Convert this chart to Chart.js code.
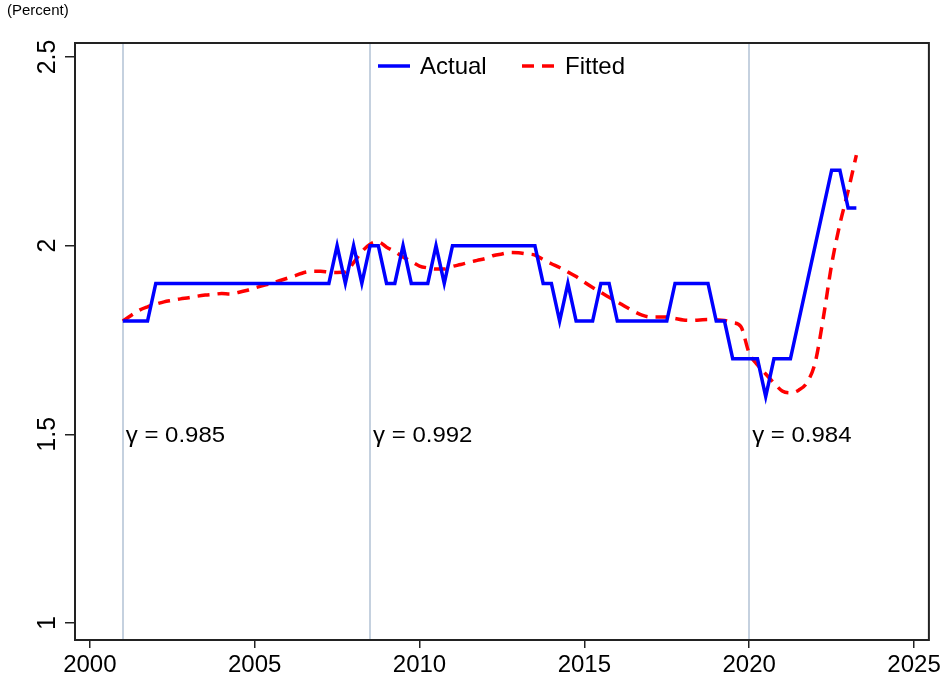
<!DOCTYPE html>
<html>
<head>
<meta charset="utf-8">
<script src="https://cdn.jsdelivr.net/npm/chart.js@4"></script>
<style>
  body { margin: 0; background: #fff; }
  canvas { display: block; }
</style>
</head>
<body>
<canvas id="chart" width="944" height="681"></canvas>
<script>
// quarterly data, first quarter 2001q1
const startYear = 2001;

const actual = [
  1.8, 1.8, 1.8, 1.8,   // 2001
  1.9, 1.9, 1.9, 1.9,   // 2002
  1.9, 1.9, 1.9, 1.9,   // 2003
  1.9, 1.9, 1.9, 1.9,   // 2004
  1.9, 1.9, 1.9, 1.9,   // 2005
  1.9, 1.9, 1.9, 1.9,   // 2006
  1.9, 1.9, 2.0, 1.9,   // 2007
  2.0, 1.9, 2.0, 2.0,   // 2008
  1.9, 1.9, 2.0, 1.9,   // 2009
  1.9, 1.9, 2.0, 1.9,   // 2010
  2.0, 2.0, 2.0, 2.0,   // 2011
  2.0, 2.0, 2.0, 2.0,   // 2012
  2.0, 2.0, 2.0, 1.9,   // 2013
  1.9, 1.8, 1.9, 1.8,   // 2014
  1.8, 1.8, 1.9, 1.9,   // 2015
  1.8, 1.8, 1.8, 1.8,   // 2016
  1.8, 1.8, 1.8, 1.9,   // 2017
  1.9, 1.9, 1.9, 1.9,   // 2018
  1.8, 1.8, 1.7, 1.7,   // 2019
  1.7, 1.7, 1.6, 1.7,   // 2020
  1.7, 1.7, 1.8, 1.9,   // 2021
  2.0, 2.1, 2.2, 2.2,   // 2022
  2.1, 2.1              // 2023
];

const fitted = [
  1.800, 1.815, 1.829, 1.838,   // 2001
  1.845, 1.851, 1.855, 1.859,   // 2002
  1.862, 1.866, 1.869, 1.871,   // 2003
  1.873, 1.872, 1.876, 1.881,   // 2004
  1.888, 1.894, 1.900, 1.907,   // 2005
  1.914, 1.921, 1.929, 1.932,   // 2006
  1.932, 1.930, 1.929, 1.930,   // 2007
  1.955, 1.984, 2.004, 2.010,   // 2008
  1.996, 1.984, 1.970, 1.958,   // 2009
  1.946, 1.941, 1.938, 1.938,   // 2010
  1.945, 1.950, 1.956, 1.961,   // 2011
  1.966, 1.974, 1.978, 1.982,   // 2012
  1.981, 1.978, 1.975, 1.963,   // 2013
  1.952, 1.942, 1.930, 1.918,   // 2014
  1.903, 1.889, 1.876, 1.863,   // 2015
  1.851, 1.838, 1.826, 1.816,   // 2016
  1.811, 1.811, 1.811, 1.807,   // 2017
  1.803, 1.802, 1.803, 1.804,   // 2018
  1.803, 1.802, 1.796, 1.785,   // 2019
  1.715, 1.684, 1.660, 1.636,   // 2020
  1.615, 1.610, 1.617, 1.637,   // 2021
  1.690, 1.810, 1.950, 2.057,   // 2022
  2.145, 2.240                  // 2023
];

// structural breaks and their labels
const breakDates = [2001, 2008.5, 2020];
const gammaLabels = ['\u03b3 = 0.985', '\u03b3 = 0.992', '\u03b3 = 0.984'];
const gammaLabelY = 1.5;

const xTicks = [2000, 2005, 2010, 2015, 2020, 2025];
const yTicks = [1, 1.5, 2, 2.5];

const seriesNames = ['Actual', 'Fitted'];

const FONT = '"Liberation Sans", Arial, Helvetica, sans-serif';

function toPoints(values) {
  return values.map((v, i) => ({ x: startYear + i / 4, y: v }));
}

// draws frame, break lines, gamma text, rotated y labels, legend
const decorPlugin = {
  id: 'decor',
  beforeDatasetsDraw(chart) {
    const ctx = chart.ctx;
    const a = chart.chartArea;
    const xs = chart.scales.x;
    const ys = chart.scales.y;
    ctx.save();
    ctx.strokeStyle = '#c5d1df';
    ctx.lineWidth = 2;
    breakDates.forEach(d => {
      const px = Math.round(xs.getPixelForValue(d));
      ctx.beginPath();
      ctx.moveTo(px, a.top);
      ctx.lineTo(px, a.bottom);
      ctx.stroke();
    });
    ctx.fillStyle = '#000';
    ctx.font = '22px ' + FONT;
    ctx.textAlign = 'left';
    ctx.textBaseline = 'middle';
    breakDates.forEach((d, i) => {
      const px = xs.getPixelForValue(d);
      ctx.save();
      ctx.translate(px + 3, ys.getPixelForValue(gammaLabelY) + 2);
      ctx.scale(1.09, 1);
      ctx.fillText(gammaLabels[i], 0, 0);
      ctx.restore();
    });
    ctx.restore();
  },
  afterDraw(chart) {
    const ctx = chart.ctx;
    const a = chart.chartArea;
    const ys = chart.scales.y;
    ctx.save();
    // frame
    ctx.strokeStyle = '#222';
    ctx.lineWidth = 2;
    ctx.strokeRect(a.left, a.top, a.right - a.left, a.bottom - a.top);

    // y tick labels, rotated
    ctx.fillStyle = '#000';
    ctx.font = '25px ' + FONT;
    ctx.textAlign = 'center';
    ctx.textBaseline = 'middle';
    yTicks.forEach(v => {
      ctx.save();
      ctx.translate(48, ys.getPixelForValue(v));
      ctx.rotate(-Math.PI / 2);
      ctx.fillText(String(v), 0, 0);
      ctx.restore();
    });

    // axis title
    ctx.font = '15px ' + FONT;
    ctx.textAlign = 'left';
    ctx.fillText('(Percent)', 7, 11);

    // legend
    const ly = 66;
    ctx.lineWidth = 3.5;
    ctx.strokeStyle = '#0000ff';
    ctx.beginPath();
    ctx.moveTo(378, ly);
    ctx.lineTo(410, ly);
    ctx.stroke();
    ctx.strokeStyle = '#ff0000';
    ctx.setLineDash([12, 8]);
    ctx.beginPath();
    ctx.moveTo(522, ly);
    ctx.lineTo(556, ly);
    ctx.stroke();
    ctx.setLineDash([]);
    ctx.font = '24px ' + FONT;
    ctx.fillStyle = '#000';
    ctx.fillText(seriesNames[0], 420, ly + 1);
    ctx.fillText(seriesNames[1], 565, ly + 1);
    ctx.restore();
  }
};

const ctx = document.getElementById('chart').getContext('2d');
new Chart(ctx, {
  type: 'line',
  data: {
    datasets: [{
      label: seriesNames[0],
      data: toPoints(actual),
      borderColor: '#0000ff',
      borderWidth: 3.5,
      pointRadius: 0,
      tension: 0,
      fill: false
    }, {
      label: seriesNames[1],
      data: toPoints(fitted),
      borderColor: '#ff0000',
      borderWidth: 3.5,
      borderDash: [12, 8],
      pointRadius: 0,
      cubicInterpolationMode: 'monotone',
      fill: false
    }]
  },
  options: {
    responsive: false,
    animation: false,
    layout: {
      padding: { top: 43, right: 14, left: 0, bottom: 0 }
    },
    plugins: {
      legend: { display: false },
      tooltip: { enabled: false }
    },
    scales: {
      x: {
        type: 'linear',
        min: 1999.55,
        max: 2025.45,
        afterBuildTicks: scale => { scale.ticks = xTicks.map(v => ({ value: v })); },
        afterFit: scale => { scale.height = 41; },
        border: { display: false },
        grid: {
          drawOnChartArea: false,
          drawTicks: true,
          tickLength: 8,
          color: '#222',
          lineWidth: 1.5
        },
        ticks: {
          color: '#000',
          font: { family: FONT, size: 24 },
          padding: 3,
          maxRotation: 0,
          callback: v => String(v)
        }
      },
      y: {
        min: 0.955,
        max: 2.537,
        afterBuildTicks: scale => { scale.ticks = yTicks.map(v => ({ value: v })); },
        afterFit: scale => { scale.width = 75; },
        border: { display: false },
        grid: {
          drawOnChartArea: false,
          drawTicks: true,
          tickLength: 10,
          color: '#222',
          lineWidth: 1.5
        },
        ticks: { display: false }
      }
    }
  },
  plugins: [decorPlugin]
});
</script>
</body>
</html>
